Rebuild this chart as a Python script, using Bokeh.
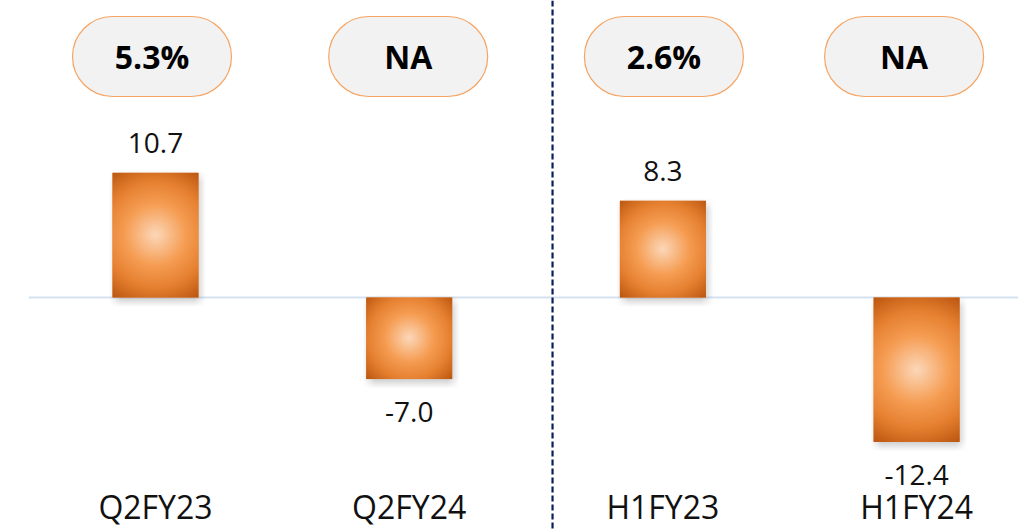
import numpy as np
from bokeh.plotting import figure
from bokeh.models import ColumnDataSource, LabelSet, Span, BoxAnnotation
from bokeh.core.properties import value
from bokeh.embed import file_html
from bokeh.resources import INLINE

# ---------------- data ----------------
categories = ["Q2FY23", "Q2FY24", "H1FY23", "H1FY24"]
values = [10.7, -7.0, 8.3, -12.4]
growth = ["5.3%", "NA", "2.6%", "NA"]

# ---------------- layout / style ----------------
W, H = 1018, 529
PX_X = 253.7          # pixels per category step
PX_Y = 11.65          # pixels per value unit
X0_PX, Y0_PX = 155, 297
x_start, x_end = -X0_PX / PX_X, (W - X0_PX) / PX_X
y_start, y_end = -(H - Y0_PX) / PX_Y, Y0_PX / PX_Y
BAR_W = 86 / PX_X
DIVIDER_X = 1.565
PILL_SHIFT_PX = [-3.5, -1.0, 1.0, -12.5]
PILL_TOP_PX, PILL_BOT_PX = 16, 96
CAT_BASE_PX = 518
FONT = "Open Sans"

xs = list(range(len(categories)))

p = figure(width=W, height=H, x_range=(x_start, x_end), y_range=(y_start, y_end),
           output_backend="svg", toolbar_location=None,
           x_axis_type=None, y_axis_type=None, min_border=0,
           outline_line_color=None, background_fill_color="white",
           border_fill_color="white")
p.grid.visible = False

# baseline
p.segment(x0=[-0.5], x1=[len(categories) - 0.5], y0=[0], y1=[0],
          line_color="#D6E2F2", line_width=2)


def rgba_image(rgb, alpha):
    h, w = alpha.shape
    img = np.empty((h, w), dtype=np.uint32)
    view = img.view(dtype=np.uint8).reshape((h, w, 4))
    view[..., 0:3] = np.clip(rgb, 0, 255).astype(np.uint8)
    view[..., 3] = np.clip(alpha, 0, 255).astype(np.uint8)
    return img


def bar_gradient(w_px, h_px):
    yy, xx = np.mgrid[0:h_px, 0:w_px]
    cx, cy = (w_px - 1) / 2, (h_px - 1) / 2
    r = np.hypot(xx - cx, yy - cy) / np.hypot(w_px / 2, h_px / 2)
    stops = [0.0, 0.4, 0.7, 1.0]
    cols = np.array([[252, 216, 186], [246, 158, 84], [230, 128, 48], [186, 86, 16]])
    rgb = np.stack([np.interp(r, stops, cols[:, k]) for k in range(3)], -1)
    return rgba_image(rgb, np.full((h_px, w_px), 255.0))


BLUR = 6


def shadow_image(w_px, h_px):
    pad = 2 * BLUR
    w2, h2 = w_px + 2 * pad, h_px + 2 * pad
    yy, xx = np.mgrid[0:h2, 0:w2]

    def ramp(t, L):
        d = np.minimum(t - pad, (L - 1 - pad) - t)
        return np.clip(0.5 + d / (2 * BLUR), 0, 1)

    a = ramp(xx, w2) * ramp(yy, h2) * 0.42 * 255
    rgb = np.zeros((h2, w2, 3)) + 110
    return rgba_image(rgb, a)


sh = dict(image=[], x=[], y=[], dw=[], dh=[])
gr = dict(image=[], x=[], y=[], dw=[], dh=[])
for x, v in zip(xs, values):
    w_px = int(round(BAR_W * PX_X))
    h_px = int(round(abs(v) * PX_Y))
    pad = 2 * BLUR
    sh["image"].append(shadow_image(w_px, h_px))
    sh["x"].append(x - BAR_W / 2 - pad / PX_X + 2 / PX_X)
    sh["y"].append(min(0, v) - pad / PX_Y - 4 / PX_Y)
    sh["dw"].append(BAR_W + 2 * pad / PX_X)
    sh["dh"].append(abs(v) + 2 * pad / PX_Y)
    gr["image"].append(bar_gradient(w_px, h_px))
    gr["x"].append(x - BAR_W / 2)
    gr["y"].append(min(0, v))
    gr["dw"].append(BAR_W)
    gr["dh"].append(abs(v))

p.image_rgba(image="image", x="x", y="y", dw="dw", dh="dh", source=ColumnDataSource(sh))

bar_src = ColumnDataSource(dict(
    x=xs, top=values, cat=categories,
    label=[f"{v:.1f}" for v in values],
    off=[20 if v >= 0 else -43 for v in values],
))
p.vbar(x="x", top="top", bottom=0, width=BAR_W, source=bar_src,
       fill_color="#EE8A3C", line_color=None)
p.image_rgba(image="image", x="x", y="y", dw="dw", dh="dh", source=ColumnDataSource(gr))

# divider
p.add_layout(Span(location=DIVIDER_X, dimension="height", line_color="#0A1E5A",
                  line_width=2.2, line_dash="6 3"))

# value labels
p.add_layout(LabelSet(x="x", y="top", text="label", y_offset="off", source=bar_src,
                      text_align="center", text_baseline="alphabetic",
                      text_font=value(FONT), text_font_size="28px", text_color="#111111"))

# category labels
cat_y = -(CAT_BASE_PX - Y0_PX) / PX_Y
cat_src = ColumnDataSource(dict(x=xs, y=[cat_y] * len(xs), text=categories))
p.add_layout(LabelSet(x="x", y="y", text="text", source=cat_src,
                      text_align="center", text_baseline="alphabetic",
                      text_font=value(FONT), text_font_size="32px", text_color="#111111"))

# growth pills
pill_cx = [x + s / PX_X for x, s in zip(xs, PILL_SHIFT_PX)]
pill_top = (Y0_PX - PILL_TOP_PX) / PX_Y
pill_bot = (Y0_PX - PILL_BOT_PX) / PX_Y
for cx in pill_cx:
    p.add_layout(BoxAnnotation(left=cx - 79.5 / PX_X, right=cx + 79.5 / PX_X,
                               top=pill_top, bottom=pill_bot,
                               fill_color="#F2F2F2", fill_alpha=1.0,
                               line_color="#F6A462", line_alpha=1.0, line_width=1.2,
                               border_radius=40))
pill_src = ColumnDataSource(dict(x=pill_cx,
                                 y=[(pill_top + pill_bot) / 2 - 12 / PX_Y] * len(xs),
                                 text=growth))
p.add_layout(LabelSet(x="x", y="y", text="text", source=pill_src,
                      text_align="center", text_baseline="alphabetic",
                      text_font=value(FONT), text_font_style="bold",
                      text_font_size="32px", text_color="#000000"))

open("out.html", "w").write(file_html(p, INLINE))
